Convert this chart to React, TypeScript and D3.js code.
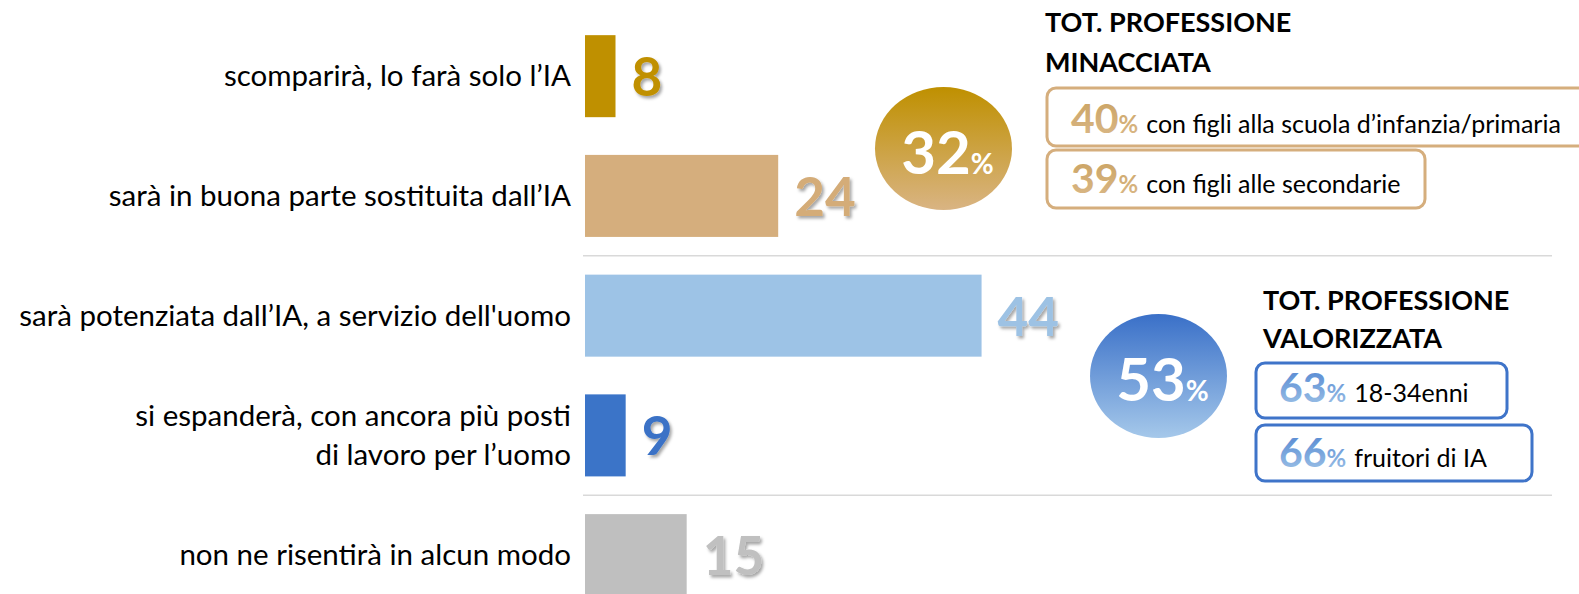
import React from "react";
import * as d3 from "d3";

const categories = [
  "scomparirà, lo farà solo l’IA",
  "sarà in buona parte sostituita dall’IA",
  "sarà potenziata dall’IA, a servizio dell'uomo",
  "si espanderà, con ancora più posti\ndi lavoro per l’uomo",
  "non ne risentirà in alcun modo",
];
const values = [8, 24, 44, 9, 15];
const barColors = ["#bf9000", "#d5ae7d", "#9dc3e6", "#3b74c8", "#bfbfbf"];
const valueColors = ["#c09000", "#d4ac78", "#9dc2e4", "#3a72c6", "#c0c0c0"];

const groupTitles = [
  ["TOT. PROFESSIONE", "MINACCIATA"],
  ["TOT. PROFESSIONE", "VALORIZZATA"],
];
const groupTotals = [32, 53];
const groupDetailValues = [
  [40, 39],
  [63, 66],
];
const groupDetailLabels = [
  ["con figli alla scuola d’infanzia/primaria", "con figli alle secondarie"],
  ["18-34enni", "fruitori di IA"],
];

const W = 1579;
const H = 594;
const FONT = "Lato, 'Open Sans', sans-serif";

export default function App() {
  const y = d3
    .scaleBand<string>()
    .domain(categories)
    .range([16.3, 615])
    .paddingInner(0.315)
    .paddingOuter(0.1575);
  const x = d3.scaleLinear().domain([5, 100]).range([585, 1551]);
  const step = y.step();
  const bw = y.bandwidth();
  const sepYs = [1, 3].map((i) => (y(categories[i]) as number) + bw + (step - bw) / 2);

  const groups = [
    {
      cx: 943.5, cy: 148.5, rx: 68.5, ry: 61.5,
      titleX: 1045, titleY: 32, titleGap: 40,
      boxes: [
        { x: 1047, y: 88, w: 545, h: 58, ty: 133 },
        { x: 1047, y: 150, w: 378, h: 58, ty: 193 },
      ],
      numX: 1071,
      stroke: "#d5ae7d",
      grad: "gold",
    },
    {
      cx: 1158.5, cy: 376, rx: 68.5, ry: 62,
      titleX: 1263, titleY: 310, titleGap: 38,
      boxes: [
        { x: 1256, y: 363, w: 251, h: 55, ty: 402 },
        { x: 1256, y: 425, w: 276, h: 56, ty: 467 },
      ],
      numX: 1279,
      stroke: "#3f74c9",
      grad: "blue",
    },
  ];

  return (
    <svg
      width={W}
      height={H}
      style={{ position: "absolute", left: 0, top: 0, background: "#fff" }}
      fontFamily={FONT}
    >
      <defs>
        <filter id="shadow" x="-20%" y="-20%" width="150%" height="150%">
          <feDropShadow dx="2" dy="2.5" stdDeviation="1.5" floodColor="#000" floodOpacity="0.35" />
        </filter>
        <linearGradient id="circ-gold" x1="0" y1="0" x2="0" y2="1">
          <stop offset="0" stopColor="#bf9000" />
          <stop offset="1" stopColor="#d9b483" />
        </linearGradient>
        <linearGradient id="circ-blue" x1="0" y1="0" x2="0" y2="1">
          <stop offset="0" stopColor="#3a70c8" />
          <stop offset="1" stopColor="#a5c8ea" />
        </linearGradient>
        <linearGradient id="txt-gold" x1="0" y1="0" x2="0" y2="1">
          <stop offset="0" stopColor="#c9a15e" />
          <stop offset="1" stopColor="#dbb98a" />
        </linearGradient>
        <linearGradient id="txt-blue" x1="0" y1="0" x2="0" y2="1">
          <stop offset="0" stopColor="#4a80cf" />
          <stop offset="1" stopColor="#a3c6e8" />
        </linearGradient>
      </defs>

      {sepYs.map((sy, i) => (
        <line key={i} x1={583} x2={1552} y1={sy} y2={sy} stroke="#d9d9d9" strokeWidth={1.5} />
      ))}

      {categories.map((c, i) => {
        const by = y(c) as number;
        const cyy = by + bw / 2;
        const lines = c.split("\n");
        return (
          <g key={c}>
            <rect x={x(5)} y={by} width={x(values[i]) - x(5)} height={bw} fill={barColors[i]} />
            <text
              x={x(values[i]) + 16}
              y={cyy + 20}
              fontSize={53}
              fontWeight={700}
              fill={valueColors[i]}
              filter="url(#shadow)"
            >
              {values[i]}
            </text>
            <text textAnchor="end" fontSize={29.5} fill="#000">
              {lines.map((l, j) => (
                <tspan key={j} x={571} y={cyy + 10 + (j - (lines.length - 1) / 2) * 39}>
                  {l}
                </tspan>
              ))}
            </text>
          </g>
        );
      })}

      {groups.map((g, gi) => (
        <g key={gi}>
          <ellipse cx={g.cx} cy={g.cy} rx={g.rx} ry={g.ry} fill={`url(#circ-${g.grad})`} />
          <text x={g.cx + 4} y={g.cy + 25} textAnchor="middle" fill="#fff" fontWeight={700}>
            <tspan fontSize={60}>{groupTotals[gi]}</tspan>
            <tspan fontSize={28}>%</tspan>
          </text>
          {groupTitles[gi].map((t, ti) => (
            <text
              key={ti}
              x={g.titleX}
              y={g.titleY + ti * g.titleGap}
              fontSize={27}
              fontWeight={700}
              fill="#000"
            >
              {t}
            </text>
          ))}
          {g.boxes.map((b, bi) => (
            <g key={bi}>
              <rect
                x={b.x}
                y={b.y}
                width={b.w}
                height={b.h}
                rx={9}
                fill="#fff"
                stroke={g.stroke}
                strokeWidth={3}
              />
              <text x={g.numX} y={b.ty}>
                <tspan fontSize={41} fontWeight={700} fill={`url(#txt-${g.grad})`}>
                  {groupDetailValues[gi][bi]}
                </tspan>
                <tspan fontSize={24} fontWeight={700} fill={`url(#txt-${g.grad})`}>
                  %
                </tspan>
                <tspan fontSize={25} fill="#000" dx={8}>
                  {groupDetailLabels[gi][bi]}
                </tspan>
              </text>
            </g>
          ))}
        </g>
      ))}
    </svg>
  );
}
